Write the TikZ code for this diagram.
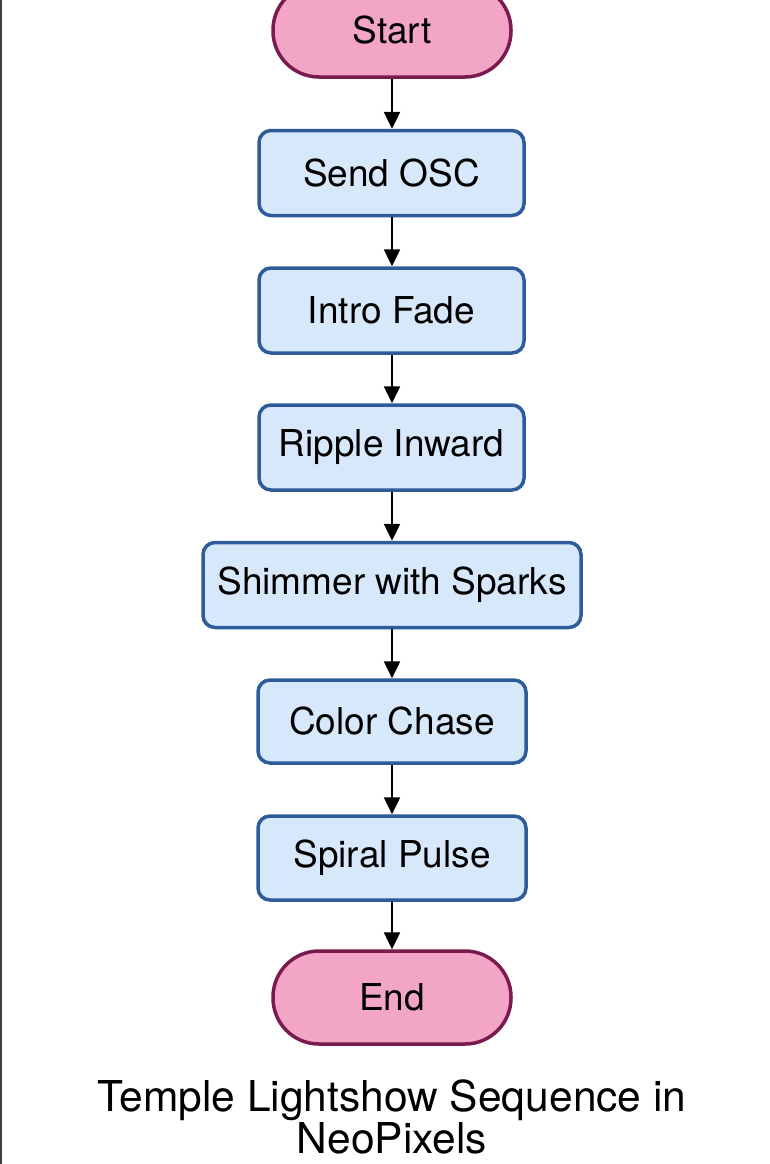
\documentclass[tikz,border=0pt]{standalone}
\usepackage{fontspec}
\setmainfont{TeX Gyre Heros}
\usetikzlibrary{arrows.meta}
\definecolor{pinkfill}{HTML}{F2A5C4}
\definecolor{pinkline}{HTML}{7B1A4F}
\definecolor{bluefill}{HTML}{D8E8FB}
\definecolor{blueline}{HTML}{2E5C9A}
\tikzset{
  term/.style={draw=pinkline, fill=pinkfill, line width=3.5pt, rounded corners=46pt,
    minimum width=238pt, minimum height=93pt, inner sep=0pt,
    font=\fontsize{37}{44}\selectfont},
  stepbox/.style={draw=blueline, fill=bluefill, line width=3.5pt, rounded corners=12pt,
    minimum height=85pt, inner sep=0pt, font=\fontsize{37}{44}\selectfont},
  flow/.style={line width=2.5pt, -{Triangle[length=17pt,width=16pt]}},
}
\begin{document}
\begin{tikzpicture}[x=1pt,y=1pt]
\useasboundingbox (0,0) rectangle (770,-1164);
\fill[white] (0,0) rectangle (770,-1164);
\draw[line width=1.5pt, black!75] (0.75,0) -- (0.75,-1164);
\node[term] (start) at (392,-30.5) {Start};
\node[stepbox, minimum width=265pt] (send) at (391.5,-173) {Send OSC};
\node[stepbox, minimum width=265pt] (intro) at (391.5,-310.5) {Intro Fade};
\node[stepbox, minimum width=265pt] (ripple) at (391.5,-447.5) {Ripple Inward};
\node[stepbox, minimum width=378pt] (shimmer) at (392,-585) {Shimmer with Sparks};
\node[stepbox, minimum width=268pt, minimum height=83pt] (chase) at (392,-721.5) {Color Chase};
\node[stepbox, minimum width=268pt, minimum height=84pt] (spiral) at (392,-858) {Spiral Pulse};
\node[term] (end) at (392,-997.5) {End};
\node[anchor=north, inner sep=0pt, align=center, font=\fontsize{42.5}{42}\selectfont] (title) at (392,-1080)
  {Temple Lightshow Sequence in\\NeoPixels};
\draw[flow] (start.south -| 392,0) -- (send.north -| 392,0);
\draw[flow] (send.south -| 392,0) -- (intro.north -| 392,0);
\draw[flow] (intro.south -| 392,0) -- (ripple.north -| 392,0);
\draw[flow] (ripple.south -| 392,0) -- (shimmer.north -| 392,0);
\draw[flow] (shimmer.south -| 392,0) -- (chase.north -| 392,0);
\draw[flow] (chase.south -| 392,0) -- (spiral.north -| 392,0);
\draw[flow] (spiral.south -| 392,0) -- (end.north -| 392,0);
\end{tikzpicture}
\end{document}
